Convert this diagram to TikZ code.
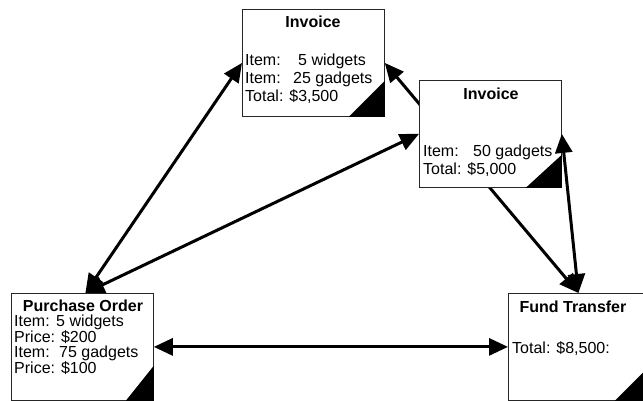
\documentclass[tikz,border=0pt]{standalone}
\usepackage{fontspec}
\setmainfont{Liberation Sans}
\usetikzlibrary{arrows.meta}

\tikzset{
  doc/.style={draw=black!85, line width=0.8pt, fill=white, minimum width=142pt,
    minimum height=107pt, anchor=north west, inner sep=0pt},
  title/.style={font=\bfseries\fontsize{16}{19}\selectfont, inner sep=0pt, anchor=center},
  body/.style={font=\fontsize{16}{19}\selectfont, inner sep=0pt, anchor=base west},
  link/.style={line width=3pt, {Triangle[length=19pt,width=17pt]}-{Triangle[length=19pt,width=17pt]}},
  corner/.style={fill=black},
}
\newcommand{\lbl}[2]{\makebox[#1][l]{#2}}

\begin{document}
\begin{tikzpicture}[x=1pt, y=-1pt]
\useasboundingbox (0,0) rectangle (643,401);
\clip (0,0) rectangle (643,401);

% documents
\node[doc] (inv1) at (242,9) {};
\node[doc] (po) at (11,293) {};
\node[doc] (ft) at (508,293) {};

% corner marks
\fill[corner] ([xshift=-36pt]inv1.south east) -- (inv1.south east) -- ([yshift=36pt]inv1.south east) -- cycle;
\fill[corner] ([xshift=-28pt]po.south east) -- (po.south east) -- ([yshift=35pt]po.south east) -- cycle;
\fill[corner] ([xshift=-36pt]ft.south east) -- (ft.south east) -- ([yshift=36pt]ft.south east) -- cycle;

% invoice to fund transfer, running behind the second invoice
\coordinate (ftTop) at ([xshift=-1pt]ft.north);
\draw[link] (inv1.east) -- (ftTop);

\node[doc] (inv2) at (419,80) {};
\fill[corner] ([xshift=-36pt]inv2.south east) -- (inv2.south east) -- ([yshift=33pt]inv2.south east) -- cycle;

% remaining links
\coordinate (poTop) at ([xshift=3pt]po.north);
\draw[link] (poTop) -- (inv1.west);
\draw[link] (poTop) -- (inv2.west);
\draw[link] (inv2.east) -- (ftTop);
\draw[link] (po.east) -- (ft.west);

% texts: first invoice
\node[title] (inv1t) at (313,22) {Invoice};
\node[body] (inv1a) at (245,66) {\lbl{53pt}{Item:}5 widgets};
\node[body] (inv1b) at (245,84) {\lbl{48pt}{Item:}25 gadgets};
\node[body] (inv1c) at (245,102) {Total: \$3,500};

% texts: second invoice
\node[title] (inv2t) at (491,94) {Invoice};
\node[body] (inv2a) at (423,157) {\lbl{50pt}{Item:}50 gadgets};
\node[body] (inv2b) at (423,175) {Total: \$5,000};

% texts: purchase order
\node[title] (pot) at (83,306) {Purchase Order};
\node[body] (poa) at (14,326) {\lbl{42pt}{Item:}5 widgets};
\node[body] (pob) at (14,342) {Price: \$200};
\node[body] (poc) at (14,357) {\lbl{45pt}{Item:}75 gadgets};
\node[body] (pod) at (14,373) {Price: \$100};

% texts: fund transfer
\node[title] (ftt) at (573,307) {Fund Transfer};
\node[body] (fta) at (512,353) {Total: \$8,500:};
\end{tikzpicture}
\end{document}
